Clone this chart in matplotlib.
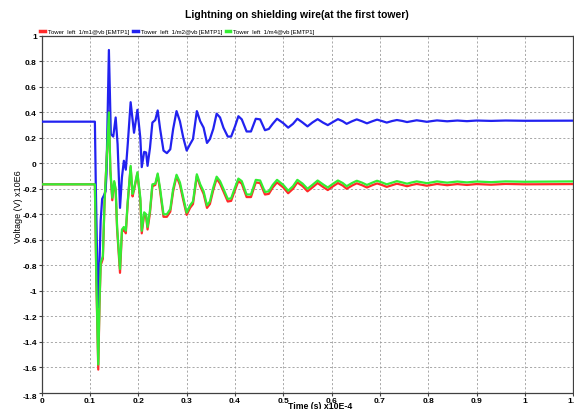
import matplotlib
matplotlib.use("Agg")
import matplotlib.pyplot as plt

# time axis in units of 1E-4 s, voltage in units of 1E6 V
t_m2 = [0, 0.110, 0.112, 0.1165, 0.119, 0.122, 0.125, 0.129, 0.132, 0.134,
        0.139, 0.143, 0.148, 0.153, 0.157, 0.162, 0.166, 0.170, 0.174, 0.178,
        0.184, 0.191, 0.198, 0.204, 0.207, 0.212, 0.216, 0.219, 0.224, 0.229,
        0.235, 0.240, 0.245, 0.252, 0.259, 0.266, 0.272, 0.279, 0.286, 0.293,
        0.300, 0.307, 0.313, 0.321, 0.328, 0.335, 0.342, 0.348, 0.355, 0.362,
        0.369, 0.376, 0.385, 0.392, 0.400, 0.407, 0.414, 0.424, 0.433, 0.443,
        0.452, 0.462, 0.470, 0.478, 0.487, 0.500, 0.510, 0.520, 0.529, 0.540,
        0.550, 0.560, 0.571, 0.582, 0.592, 0.603, 0.613, 0.623, 0.631, 0.642,
        0.652, 0.663, 0.673, 0.684, 0.694, 0.704, 0.714, 0.725, 0.735, 0.746,
        0.756, 0.766, 0.776, 0.787, 0.797, 0.808, 0.818, 0.839, 0.860, 0.880,
        0.900, 0.930, 0.960, 1.000, 1.100]
v_m2 = [0.327, 0.327, -0.20, -1.13, -0.85, -0.45, -0.28, -0.25, -0.22, -0.09,
        0.89, 0.23, 0.21, 0.36, 0.15, -0.35, -0.11, 0.02, -0.05, 0.15,
        0.48, 0.24, 0.42, 0.20, -0.03, 0.09, 0.085, -0.02, 0.12, 0.32,
        0.34, 0.415, 0.27, 0.10, 0.08, 0.11, 0.27, 0.41, 0.33, 0.20,
        0.10, 0.15, 0.19, 0.41, 0.33, 0.28, 0.16, 0.19, 0.27, 0.39,
        0.36, 0.28, 0.21, 0.21, 0.29, 0.37, 0.345, 0.25, 0.25, 0.35,
        0.345, 0.26, 0.27, 0.31, 0.35, 0.315, 0.28, 0.31, 0.35, 0.32,
        0.29, 0.32, 0.347, 0.32, 0.30, 0.325, 0.347, 0.33, 0.31, 0.33,
        0.345, 0.33, 0.314, 0.33, 0.343, 0.332, 0.32, 0.332, 0.34, 0.333,
        0.324, 0.331, 0.338, 0.332, 0.326, 0.332, 0.337, 0.330, 0.336, 0.331,
        0.336, 0.333, 0.336, 0.334, 0.335]

t_m4 = [0, 0.110, 0.113, 0.117, 0.1195, 0.122, 0.1265, 0.130, 0.134, 0.139,
        0.142, 0.146, 0.150, 0.153, 0.156, 0.162, 0.166, 0.170, 0.174, 0.178,
        0.184, 0.188, 0.191, 0.198, 0.204, 0.207, 0.212, 0.216, 0.219, 0.224,
        0.229, 0.235, 0.240, 0.245, 0.252, 0.259, 0.266, 0.272, 0.279, 0.286,
        0.293, 0.300, 0.307, 0.313, 0.321, 0.328, 0.335, 0.342, 0.348, 0.355,
        0.362, 0.369, 0.376, 0.385, 0.392, 0.400, 0.407, 0.414, 0.424, 0.433,
        0.443, 0.452, 0.462, 0.470, 0.478, 0.487, 0.500, 0.510, 0.520, 0.529,
        0.540, 0.550, 0.560, 0.571, 0.582, 0.592, 0.603, 0.613, 0.623, 0.631,
        0.642, 0.652, 0.663, 0.673, 0.684, 0.694, 0.704, 0.714, 0.725, 0.735,
        0.746, 0.756, 0.766, 0.776, 0.787, 0.797, 0.808, 0.818, 0.839, 0.860,
        0.880, 0.900, 0.930, 0.960, 1.000, 1.100]
v_m4 = [-0.165, -0.165, -0.90, -1.58, -1.10, -0.78, -0.73, -0.30, 0.00, 0.40,
        -0.05, -0.27, -0.14, -0.20, -0.50, -0.83, -0.52, -0.50, -0.53, -0.30,
        -0.02, -0.24, -0.20, -0.07, -0.27, -0.53, -0.385, -0.40, -0.50, -0.37,
        -0.165, -0.16, -0.08, -0.20, -0.40, -0.40, -0.36, -0.20, -0.09, -0.15,
        -0.27, -0.387, -0.33, -0.30, -0.086, -0.165, -0.22, -0.33, -0.30, -0.19,
        -0.105, -0.14, -0.20, -0.28, -0.275, -0.19, -0.12, -0.14, -0.245, -0.245,
        -0.13, -0.135, -0.225, -0.22, -0.17, -0.13, -0.17, -0.215, -0.18, -0.13,
        -0.16, -0.20, -0.17, -0.135, -0.165, -0.19, -0.16, -0.135, -0.155, -0.18,
        -0.155, -0.137, -0.152, -0.17, -0.152, -0.137, -0.15, -0.165, -0.152, -0.14,
        -0.15, -0.16, -0.15, -0.142, -0.149, -0.156, -0.149, -0.142, -0.152, -0.143,
        -0.150, -0.143, -0.148, -0.142, -0.145, -0.142]

t_m1 = t_m4
v_m1 = [-0.165, -0.165, -0.92, -1.62, -1.12, -0.80, -0.75, -0.31, 0.00, 0.41,
        -0.06, -0.29, -0.15, -0.21, -0.52, -0.86, -0.54, -0.52, -0.55, -0.31,
        -0.03, -0.26, -0.21, -0.08, -0.29, -0.55, -0.40, -0.42, -0.52, -0.39,
        -0.18, -0.17, -0.09, -0.22, -0.42, -0.42, -0.38, -0.22, -0.10, -0.17,
        -0.29, -0.405, -0.35, -0.32, -0.10, -0.18, -0.24, -0.35, -0.32, -0.21,
        -0.12, -0.16, -0.22, -0.30, -0.295, -0.21, -0.14, -0.16, -0.265, -0.265,
        -0.15, -0.155, -0.245, -0.24, -0.19, -0.15, -0.19, -0.235, -0.20, -0.15,
        -0.18, -0.22, -0.19, -0.155, -0.185, -0.21, -0.18, -0.155, -0.175, -0.20,
        -0.175, -0.157, -0.172, -0.19, -0.172, -0.158, -0.17, -0.185, -0.172, -0.16,
        -0.17, -0.18, -0.17, -0.162, -0.169, -0.176, -0.169, -0.162, -0.172, -0.163,
        -0.170, -0.163, -0.168, -0.162, -0.165, -0.163]

labels = ['Tower  left  1/m1@vb [EMTP1]', 'Tower  left  1/m2@vb [EMTP1]',
          'Tower  left  1/m4@vb [EMTP1]']
colors = ['#ff2a2a', '#2222f0', '#33ee33']

x_ticks = [0, 0.1, 0.2, 0.3, 0.4, 0.5, 0.6, 0.7, 0.8, 0.9, 1, 1.1]
y_ticks = [1, 0.8, 0.6, 0.4, 0.2, 0, -0.2, -0.4, -0.6, -0.8, -1, -1.2, -1.4, -1.6, -1.8]

plt.rcParams['font.family'] = ['Liberation Sans', 'DejaVu Sans']

fig = plt.figure(figsize=(5.74, 4.10), dpi=100)
ax = fig.add_axes([0.0727, 0.0402, 0.926, 0.8696])

ax.plot(t_m1, v_m1, color=colors[0], lw=1.6, label=labels[0], zorder=3)
ax.plot(t_m2, v_m2, color=colors[1], lw=1.6, label=labels[1], zorder=4)
ax.plot(t_m4, v_m4, color=colors[2], lw=1.6, label=labels[2], zorder=5)

ax.set_xlim(0, 1.1)
ax.set_ylim(-1.8, 1)
ax.set_xticks(x_ticks)
ax.set_xticklabels(['%g' % v for v in x_ticks])
ax.set_yticks(y_ticks)
ax.set_yticklabels(['%g' % v for v in y_ticks])
for lab in ax.get_xticklabels() + ax.get_yticklabels():
    lab.set_fontweight('bold')
    lab.set_fontsize(6)
ax.get_yticklabels()[-1].set_verticalalignment('top')
ax.tick_params(axis='both', direction='out', length=2, width=0.8, pad=1.5, color='#404040')

ax.grid(True, color='#9a9a9a', linestyle=(0, (2.5, 2.5)), linewidth=0.6)
for s in ax.spines.values():
    s.set_color('#404040')
    s.set_linewidth(0.9)

ax.set_xlabel('Time (s) x10E-4', fontsize=6.3, fontweight='bold')
ax.xaxis.set_label_coords(0.524, -0.024)
ax.set_ylabel('Voltage (V) x10E6', fontsize=6.5)
ax.yaxis.set_label_coords(-0.036, 0.523)

leg = ax.legend(ncol=3, loc='lower left', bbox_to_anchor=(-0.003, 1.005), frameon=False,
                fontsize=4.3, handlelength=0.8, handletextpad=0.5, columnspacing=0.6,
                borderaxespad=0, borderpad=0)
for h in leg.get_lines():
    h.set_linewidth(2.5)

fig.text(0.517, 0.963, 'Lightning on shielding wire(at the first tower)',
         ha='center', va='center', fontsize=7.5, fontweight='bold')

fig.savefig('out.png', dpi=100)
